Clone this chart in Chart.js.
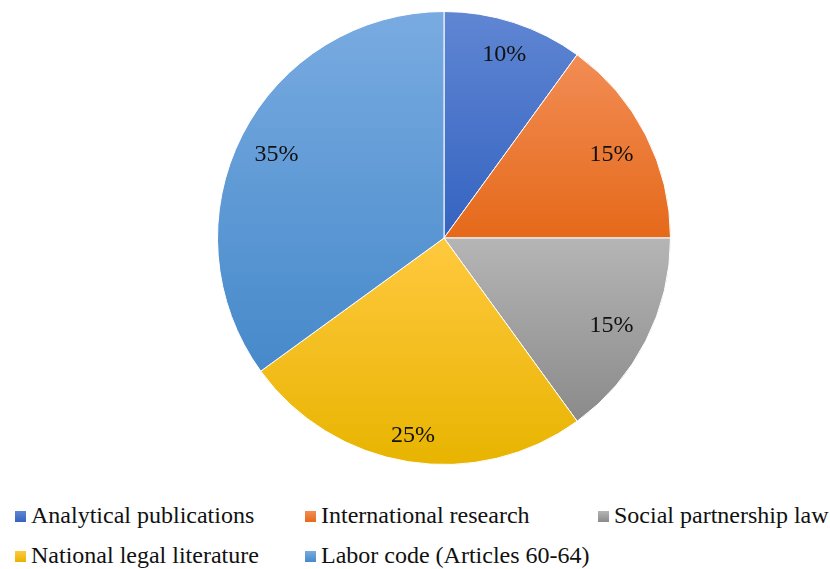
<!DOCTYPE html>
<html>
<head>
<meta charset="utf-8">
<script src="https://cdn.jsdelivr.net/npm/chart.js@4"></script>
<style>
  body { margin: 0; background: #fff; width: 830px; height: 569px; overflow: hidden; font-family: "Liberation Serif", "Times New Roman", serif; }
  #wrap { position: absolute; left: 0; top: 0; width: 830px; height: 480px; }
  #legend { position: absolute; left: 15px; top: 502px; width: 815px; display: grid; grid-template-columns: 290px 293px 232px; row-gap: 14px; }
  .item { display: flex; align-items: center; font-size: 24px; color: #111; white-space: nowrap; height: 26px; }
  .box { width: 11px; height: 11px; margin-right: 5px; margin-top: 2px; flex: none; }
</style>
</head>
<body>
<div id="wrap"><canvas id="pie" width="830" height="480"></canvas></div>
<div id="legend"></div>
<script>
const categories = ["Analytical publications", "International research", "Social partnership law", "National legal literature", "Labor code (Articles 60-64)"];
const shares = [10, 15, 15, 25, 35];
const topColors = ["#6086D3", "#F28D55", "#B5B5B5", "#FFC93F", "#79ABE1"];
const bottomColors = ["#3463C0", "#E5691A", "#8A8A8A", "#E8B400", "#4689CA"];
const labelFont = '24px "Liberation Serif", "Times New Roman", serif';

// vertical gradient spanning each slice's own height (like the Excel fill)
function sliceGradient(context) {
  const chart = context.chart;
  const i = context.dataIndex;
  const area = chart.chartArea;
  if (!area) return topColors[i];
  const cy = (area.top + area.bottom) / 2;
  const r = Math.min(area.right - area.left, area.bottom - area.top) / 2;
  const total = shares.reduce((a, b) => a + b, 0);
  let start = 0;
  for (let k = 0; k < i; k++) start += shares[k];
  const a0 = -Math.PI / 2 + (start / total) * Math.PI * 2;
  const a1 = a0 + (shares[i] / total) * Math.PI * 2;
  let ymin = cy, ymax = cy;
  for (let s = 0; s <= 60; s++) {
    const y = cy + r * Math.sin(a0 + (a1 - a0) * s / 60);
    ymin = Math.min(ymin, y);
    ymax = Math.max(ymax, y);
  }
  const g = chart.ctx.createLinearGradient(0, ymin, 0, ymax);
  g.addColorStop(0, topColors[i]);
  g.addColorStop(1, bottomColors[i]);
  return g;
}

const percentLabels = {
  id: "percentLabels",
  afterDatasetsDraw(chart) {
    const ctx = chart.ctx;
    const meta = chart.getDatasetMeta(0);
    ctx.save();
    ctx.font = labelFont;
    ctx.fillStyle = "#111";
    ctx.textAlign = "center";
    ctx.textBaseline = "middle";
    meta.data.forEach((arc, i) => {
      const mid = (arc.startAngle + arc.endAngle) / 2;
      const tw = ctx.measureText(shares[i] + "%").width;
      const d = arc.outerRadius - (tw / 2) * Math.abs(Math.cos(mid)) - 11 * Math.abs(Math.sin(mid)) - 14;
      ctx.fillText(shares[i] + "%", arc.x + d * Math.cos(mid), arc.y + d * Math.sin(mid) + 2);
    });
    ctx.restore();
  },
};

new Chart(document.getElementById("pie"), {
  type: "pie",
  data: {
    labels: categories,
    datasets: [{ data: shares, backgroundColor: sliceGradient, borderColor: "#ffffff", borderWidth: 1 }],
  },
  options: {
    responsive: false,
    animation: false,
    devicePixelRatio: 1,
    layout: { padding: { left: 58, top: 11, bottom: 15, right: 0 } },
    plugins: { legend: { display: false }, tooltip: { enabled: false } },
  },
  plugins: [percentLabels],
});

// legend as a grid, like the original
const legend = document.getElementById("legend");
categories.forEach((name, i) => {
  const item = document.createElement("div");
  item.className = "item";
  item.innerHTML = `<span class="box" style="background: linear-gradient(${topColors[i]}, ${bottomColors[i]})"></span>${name}`;
  legend.appendChild(item);
});
</script>
</body>
</html>
